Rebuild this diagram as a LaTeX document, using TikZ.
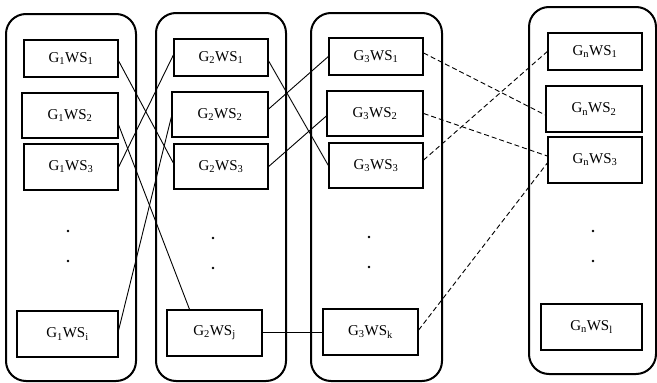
\documentclass[tikz,border=0pt]{standalone}
\usepackage{fontspec}
\setmainfont{Liberation Serif}
\usepackage{tikz}
\usetikzlibrary{positioning,calc}

\newcommand{\gws}[2]{G\textsubscript{#1}WS\textsubscript{#2}}

\begin{document}
\begin{tikzpicture}[x=1pt,y=-1pt,
    group/.style={draw,line width=2pt,rounded corners=20pt},
    ws/.style={draw,line width=1.3pt,inner sep=0pt,font=\fontsize{15}{18}\selectfont},
    dot/.style={circle,fill,inner sep=0pt,minimum size=2.6pt},
    link/.style={line width=0.9pt},
    weak/.style={line width=0.9pt,dash pattern=on 5pt off 3pt}]
  \useasboundingbox (0,0) rectangle (657,383);
  % groups
  \node [group,minimum width=130pt,minimum height=367pt] (g1) at (71,197.5) {};
  \node [group,minimum width=130pt,minimum height=368pt] (g2) at (221,197) {};
  \node [group,minimum width=131pt,minimum height=368pt] (g3) at (376.5,197) {};
  \node [group,minimum width=127pt,minimum height=367pt] (gn) at (592.5,190.5) {};
  % workstations
  \node [ws,minimum width=94pt,minimum height=37pt] (a1) at (71,58.5) {\gws{1}{1}};
  \node [ws,minimum width=96pt,minimum height=45pt] (a2) at (70,115.5) {\gws{1}{2}};
  \node [ws,minimum width=94pt,minimum height=46pt] (a3) at (71,167) {\gws{1}{3}};
  \node [ws,minimum width=101pt,minimum height=46pt] (ai) at (67.5,334) {\gws{1}{i}};
  \node [ws,minimum width=94pt,minimum height=37pt] (b1) at (221,57.5) {\gws{2}{1}};
  \node [ws,minimum width=96pt,minimum height=45pt] (b2) at (220,114.5) {\gws{2}{2}};
  \node [ws,minimum width=94pt,minimum height=45pt] (b3) at (221,166.5) {\gws{2}{3}};
  \node [ws,minimum width=95pt,minimum height=46pt] (bj) at (214.5,333) {\gws{2}{j}};
  \node [ws,minimum width=94pt,minimum height=37pt] (c1) at (376,56.5) {\gws{3}{1}};
  \node [ws,minimum width=96pt,minimum height=45pt] (c2) at (375,113.5) {\gws{3}{2}};
  \node [ws,minimum width=94pt,minimum height=45pt] (c3) at (376,165.5) {\gws{3}{3}};
  \node [ws,minimum width=95pt,minimum height=46pt] (ck) at (370.5,332) {\gws{3}{k}};
  \node [ws,minimum width=94pt,minimum height=37pt] (n1) at (595,51.5) {\gws{n}{1}};
  \node [ws,minimum width=96pt,minimum height=46pt] (n2) at (594,109) {\gws{n}{2}};
  \node [ws,minimum width=94pt,minimum height=46pt] (n3) at (595,160) {\gws{n}{3}};
  \node [ws,minimum width=101pt,minimum height=46pt] (nl) at (591.5,327) {\gws{n}{l}};
  % dots
  \foreach \x/\y/\n in {68/231/a, 68/261/aa, 213/238/b, 213/268/bb,
                        369/237/c, 369/267/cc, 593/231/n, 593/261/nn}
    \node [dot] (dot\n) at (\x,\y) {};
  % links
  \draw [link] ([yshift=-2.5pt]a1.east) -- ([yshift=3.5pt]b3.west);
  \draw [link] ([yshift=-9.5pt]a2.east) -- ([xshift=-25pt]bj.north);
  \draw [link] (a3.east) -- ([yshift=2.5pt]b1.west);
  \draw [link] ([yshift=4pt]ai.east) -- ([yshift=-2.5pt]b2.west);
  \draw [link] ([yshift=-3.5pt]b1.east) -- (c3.west);
  \draw [link] ([yshift=5.5pt]b2.east) -- (c1.west);
  \draw [link] (b3.east) -- ([yshift=-2.5pt]c2.west);
  \draw [link] ([yshift=1pt]bj.east) -- (ck.west);
  \draw [weak] ([yshift=3.5pt]c1.east) -- ([yshift=-6pt]n2.west);
  \draw [weak] (c2.east) -- ([yshift=4pt]n3.west);
  \draw [weak] ([yshift=5.5pt]c3.east) -- (n1.west);
  \draw [weak] ([yshift=2pt]ck.east) -- ([yshift=-3pt]n3.west);
\end{tikzpicture}
\end{document}
